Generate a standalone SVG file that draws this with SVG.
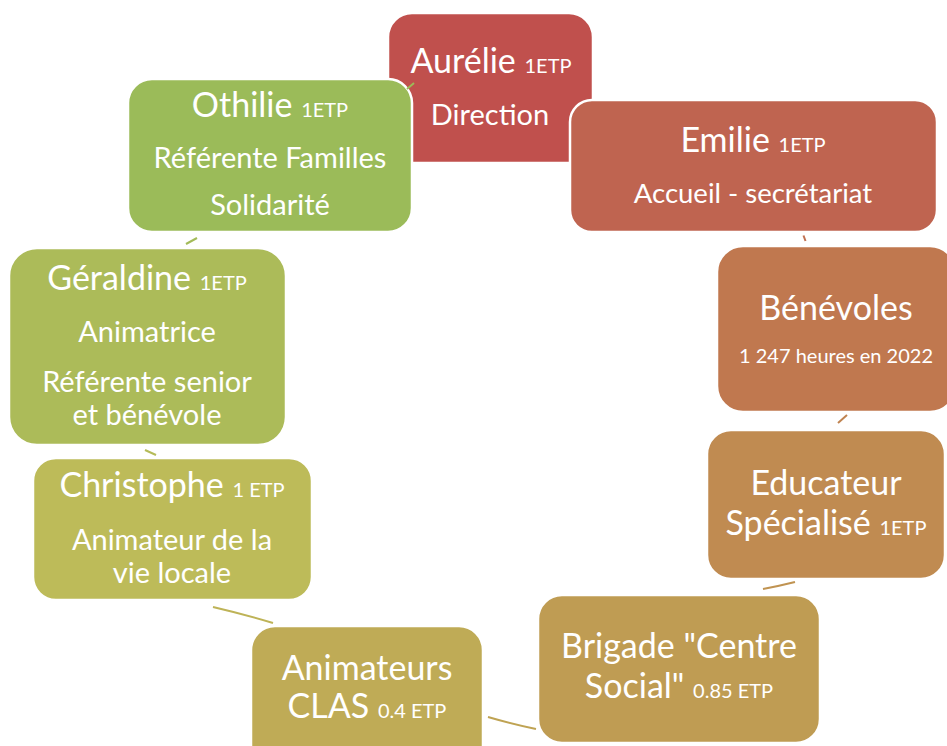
<svg xmlns="http://www.w3.org/2000/svg" width="947" height="746" viewBox="0 0 947 746">
<style>
.n{stroke:#fff;stroke-width:2.5}
.t{font-family:Lato,"Liberation Sans",sans-serif;fill:#fff;text-anchor:middle}
.b{font-size:34px}
.r{font-size:29px}
.s{font-size:20px}
.c{fill:none;stroke-width:2}
</style>
<rect width="947" height="746" fill="#fff"/>
<g id="connectors">
<path class="c" stroke="#C07050" d="M803.5,235.5 L805.5,241"/>
<path class="c" stroke="#C08350" d="M838,423 L847,415"/>
<path class="c" stroke="#C09351" d="M763,589 Q779,586 795,582"/>
<path class="c" stroke="#BFA353" d="M488,717 Q512,724 536,729"/>
<path class="c" stroke="#BEB357" d="M213,607 Q243,614 273,623"/>
<path class="c" stroke="#B5BB59" d="M145,450 L156,455"/>
<path class="c" stroke="#A3BB59" d="M186,244 L197,238"/>
</g>
<g id="aurelie">
<rect class="n" x="388" y="13" width="205" height="150" rx="24" fill="#C0504D"/>
<text class="t b" x="491" y="73">Aurélie <tspan class="s">1ETP</tspan></text>
<text class="t r" x="490" y="125">Direction</text>
</g>
<g id="emilie">
<rect class="n" x="570" y="100" width="367" height="132" rx="22" fill="#BF6450"/>
<text class="t b" x="753" y="152">Emilie <tspan class="s">1ETP</tspan></text>
<text class="t" x="753" y="203" font-size="27.5">Accueil - secrétariat</text>
</g>
<g id="benevoles">
<rect class="n" x="717" y="246" width="239" height="166" rx="26" fill="#C0784F"/>
<text class="t b" x="836" y="320">Bénévoles</text>
<text class="t s" x="836" y="363">1 247 heures en 2022</text>
</g>
<g id="educateur">
<rect class="n" x="707" y="430" width="238" height="149" rx="24" fill="#C08B51"/>
<text class="t b" x="826" y="495">Educateur</text>
<text class="t b" x="826" y="535">Spécialisé <tspan class="s">1ETP</tspan></text>
</g>
<g id="brigade">
<rect class="n" x="538" y="595" width="282" height="148" rx="24" fill="#BF9C53"/>
<text class="t b" x="679" y="658">Brigade "Centre</text>
<text class="t b" x="679" y="698">Social" <tspan class="s">0.85 ETP</tspan></text>
</g>
<g id="animateurs-clas">
<rect class="n" x="251" y="626" width="232" height="150" rx="24" fill="#BFAB56"/>
<text class="t b" x="367" y="680">Animateurs</text>
<text class="t b" x="367" y="718">CLAS <tspan class="s">0.4 ETP</tspan></text>
</g>
<g id="christophe">
<rect class="n" x="33" y="458" width="279" height="142" rx="23" fill="#BDBB59"/>
<text class="t b" x="172" y="497">Christophe <tspan class="s">1 ETP</tspan></text>
<text class="t r" x="172" y="550">Animateur de la</text>
<text class="t r" x="172" y="583">vie locale</text>
</g>
<g id="geraldine">
<rect class="n" x="9" y="248" width="277" height="197" rx="28" fill="#ACBB59"/>
<text class="t b" x="147" y="290">Géraldine <tspan class="s">1ETP</tspan></text>
<text class="t r" x="147" y="342">Animatrice</text>
<text class="t r" x="147" y="392">Référente senior</text>
<text class="t r" x="147" y="425">et bénévole</text>
</g>
<g id="othilie">
<rect class="n" x="128" y="79" width="284" height="153" rx="24" fill="#9BBB59"/>
<text class="t b" x="270" y="117">Othilie <tspan class="s">1ETP</tspan></text>
<text class="t r" x="270" y="168">Référente Familles</text>
<text class="t r" x="270" y="215">Solidarité</text>
</g>
<path class="c" stroke="#9BBB59" d="M407,89 L414,83"/>
</svg>
